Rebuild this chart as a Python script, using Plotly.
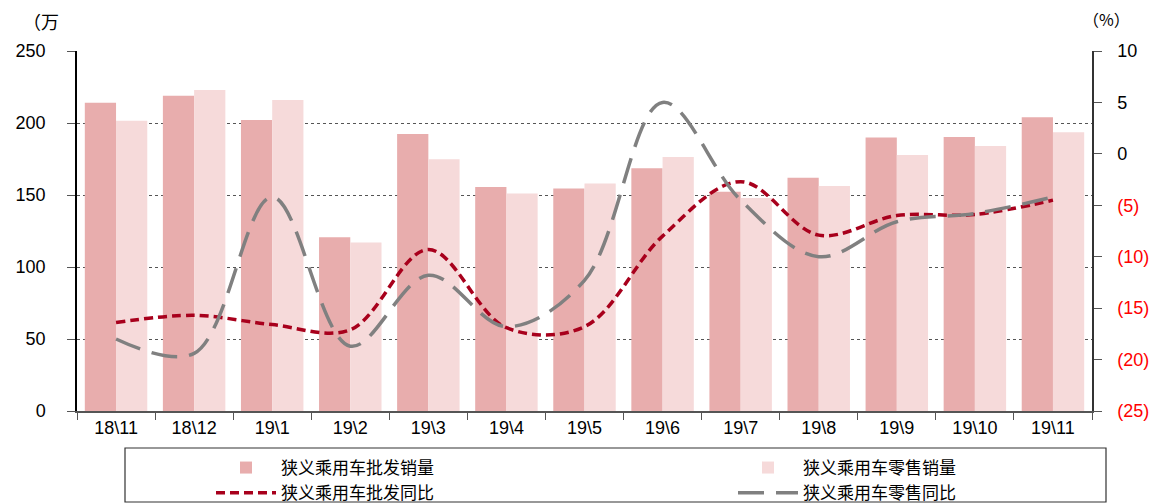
import plotly.graph_objects as go

categories = ["18\\11", "18\\12", "19\\1", "19\\2", "19\\3", "19\\4", "19\\5",
              "19\\6", "19\\7", "19\\8", "19\\9", "19\\10", "19\\11"]
wholesale_sales = [214, 219, 202, 120.6, 192.4, 155.6, 154.6, 168.5, 152.3, 162, 190, 190.3, 204]
retail_sales = [201.6, 223, 216, 117, 174.8, 151, 157.9, 176.4, 148, 156.2, 177.8, 184, 193.5]
wholesale_yoy = [-16.4, -15.7, -16.6, -17.1, -9.3, -16.9, -16.8, -8.0, -2.7, -7.9, -6.0, -5.9, -4.5]
retail_yoy = [-18.0, -19.4, -4.2, -18.7, -11.8, -16.8, -12.3, 5.0, -4.5, -10.0, -6.6, -5.8, -4.2]

left_ticks = [0, 50, 100, 150, 200, 250]
right_ticks = [10, 5, 0, -5, -10, -15, -20, -25]
right_ticktext = ["10", "5", "0", "(5)", "(10)", "(15)", "(20)", "(25)"]

names = ["狭义乘用车批发销量", "狭义乘用车零售销量", "狭义乘用车批发同比", "狭义乘用车零售同比"]

W, H = 1169, 504
L, R, T, B = 77, 77, 51, 93
pw, ph = W - L - R, H - T - B

def px_x(x):
    return (x - L) / pw

def px_y(y):
    return (H - B - y) / ph

fig = go.Figure()
fig.add_trace(go.Bar(x=categories, y=wholesale_sales, name=names[0], legendgroup="a",
                     marker=dict(color="#E8ADAD", line=dict(width=0)), legend="legend"))
fig.add_trace(go.Bar(x=categories, y=retail_sales, name=names[1], legendgroup="b",
                     marker=dict(color="#F6DADA", line=dict(width=0)), legend="legend2"))
fig.add_trace(go.Scatter(x=categories, y=wholesale_yoy, name=names[2], yaxis="y2", legendgroup="c",
                         mode="lines", line=dict(color="#A8001C", width=3.5, dash="9px,5px", shape="spline", smoothing=1.0),
                         legend="legend"))
fig.add_trace(go.Scatter(x=categories, y=retail_yoy, name=names[3], yaxis="y2", legendgroup="d",
                         mode="lines", line=dict(color="#808080", width=3.5, dash="26px,12px", shape="spline", smoothing=1.0),
                         legend="legend2"))

tick_font = dict(family="Liberation Sans, Arial, sans-serif", size=18, color="#000000")
legend_font = dict(family="Noto Sans CJK SC", size=17, color="#000000")

right_text = [t if v >= 0 else '<span style="color:#FF0000">' + t + '</span>' for t, v in zip(right_ticktext, right_ticks)]

fig.update_layout(
    width=W, height=H,
    margin=dict(l=L, r=R, t=T, b=B, autoexpand=False),
    paper_bgcolor="white", plot_bgcolor="white",
    barmode="group", bargap=0.2, bargroupgap=0,
    xaxis=dict(type="category", showgrid=False, showline=True, linecolor="#555555", linewidth=1.5,
               ticks="outside", ticklen=7, tickcolor="#555555", tickson="boundaries",
               tickfont=tick_font, range=[-0.5, 12.5]),
    yaxis=dict(range=[0, 250], tickvals=left_ticks, showgrid=True, gridcolor="#555555", griddash="dot",
               gridwidth=1, showline=True, linecolor="#000000", linewidth=1.5, ticks="outside",
               ticklen=8, tickcolor="#555555", tickfont=tick_font, ticklabelstandoff=18, zeroline=False),
    yaxis2=dict(range=[-25, 10], tickvals=right_ticks, ticktext=right_text, overlaying="y", side="right",
                showgrid=False, showline=True, linecolor="#333333", linewidth=1.5, ticks="outside",
                ticklen=8, tickcolor="#555555", tickfont=tick_font, ticklabelstandoff=12, zeroline=False),
    legend=dict(x=px_x(211), y=px_y(450), xanchor="left", yanchor="top", orientation="v",
                bgcolor="rgba(0,0,0,0)", borderwidth=0, font=legend_font, itemwidth=60,
                tracegroupgap=0, traceorder="grouped"),
    legend2=dict(x=px_x(733), y=px_y(450), xanchor="left", yanchor="top", orientation="v",
                 bgcolor="rgba(0,0,0,0)", borderwidth=0, font=legend_font, itemwidth=60,
                 tracegroupgap=0, traceorder="grouped"),
    shapes=[dict(type="rect", xref="paper", yref="paper", x0=px_x(125), x1=px_x(1106),
                 y0=px_y(502), y1=px_y(448), line=dict(color="#333333", width=1.2))],
    annotations=[
        dict(text="（万", xref="paper", yref="paper", x=px_x(21), y=px_y(21), xanchor="left", yanchor="middle",
             showarrow=False, font=dict(family="Noto Sans CJK SC", size=18, color="#000000")),
        dict(text="（%）", xref="paper", yref="paper", x=px_x(1081), y=px_y(19), xanchor="left", yanchor="middle",
             showarrow=False, font=dict(family="Noto Sans CJK SC", size=16, color="#000000")),
    ],
    showlegend=True,
)

fig.write_html("out.html", config={"displayModeBar": False},
               post_script="document.body.style.margin='0';document.body.style.padding='0';")
